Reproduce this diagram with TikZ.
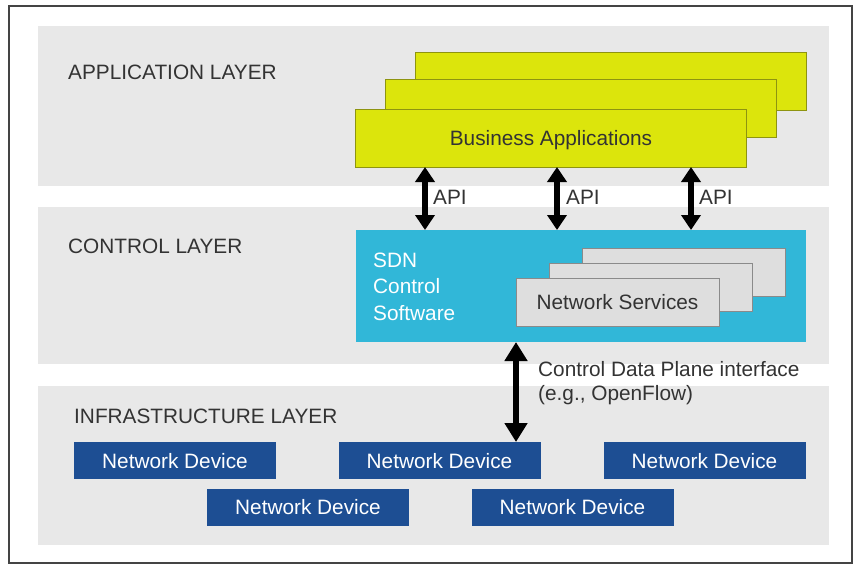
\documentclass[tikz,border=0pt]{standalone}
\usepackage{fontspec}
\setmainfont{Liberation Sans}
\usetikzlibrary{arrows.meta}
\definecolor{layergray}{HTML}{E8E8E8}
\definecolor{appyellow}{HTML}{DCE50C}
\definecolor{appborder}{HTML}{8E9410}
\definecolor{sdncyan}{HTML}{31B7D8}
\definecolor{svcgray}{HTML}{DEDEDE}
\definecolor{svcborder}{HTML}{8A8A8A}
\definecolor{devblue}{HTML}{1D4E93}
\definecolor{txtgray}{HTML}{333333}
\definecolor{framegray}{HTML}{444444}
\newcommand{\dfont}{\fontsize{20.8}{25}\selectfont}
\tikzset{
  box/.style={inner sep=0pt, outer sep=0pt, anchor=center, text height=15pt, text depth=0pt},
  layerbox/.style={box, fill=layergray, minimum width=791pt},
  appbox/.style={box, fill=appyellow, draw=appborder, line width=0.8pt, minimum width=391pt, minimum height=58pt, text=txtgray, font=\dfont},
  svcbox/.style={box, fill=svcgray, draw=svcborder, line width=1pt, minimum width=203pt, minimum height=48pt, text=txtgray, font=\dfont},
  devbox/.style={box, fill=devblue, minimum width=202pt, minimum height=37pt, text=white, font=\dfont},
  lbl/.style={inner sep=0pt, anchor=base west, text=txtgray, font=\dfont},
  apiarrow/.style={line width=5.5pt, {Triangle[width=19pt,length=15pt]}-{Triangle[width=19pt,length=15pt]}},
  cdarrow/.style={line width=6pt, {Triangle[width=22pt,length=19pt]}-{Triangle[width=22pt,length=19pt]}}
}
\begin{document}
\begin{tikzpicture}[x=1pt, y=-1pt]
\useasboundingbox (0,0) rectangle (864,574);
\fill[white] (0,0) rectangle (864,574);
% outer frame
\draw[framegray, line width=1.5pt] (9,6) rectangle (852,563);
% layers
\node[layerbox, minimum height=160pt] (applayer) at (433.5,106) {};
\node[layerbox, minimum height=157pt] (ctrllayer) at (433.5,285.5) {};
\node[layerbox, minimum height=159pt] (infralayer) at (433.5,465.5) {};
% layer labels
\node[lbl] (applbl) at (68,79) {APPLICATION LAYER};
\node[lbl] (ctrllbl) at (68,253) {CONTROL LAYER};
\node[lbl] (infralbl) at (74,423) {INFRASTRUCTURE LAYER};
% business applications
\node[appbox] (ba3) at (610.5,81) {};
\node[appbox] (ba2) at (580.5,108) {};
\node[appbox] (ba1) at (551,138) {Business Applications};
% SDN control software
\node[box, text height=, text depth=, fill=sdncyan, minimum width=450pt, minimum height=112pt] (sdn) at (581,286) {};
\node[inner sep=0pt, anchor=north west, text=white, align=left, font=\fontsize{20.8}{26.5}\selectfont] (sdnlbl) at (373,252.5) {SDN\\Control\\Software};
% network services
\node[svcbox] (ns3) at (684,272.5) {};
\node[svcbox] (ns2) at (651,287) {};
\node[svcbox] (ns1) at (617.5,302) {Network Services};
% network devices
\node[devbox] (d1) at (175,460.5) {Network Device};
\node[devbox] (d2) at (439.5,460.5) {Network Device};
\node[devbox] (d3) at (704.5,460.5) {Network Device};
\node[devbox] (d4) at (308,507) {Network Device};
\node[devbox] (d5) at (572.5,507) {Network Device};
% API arrows
\coordinate (a1) at (425,0);
\coordinate (a2) at (557,0);
\coordinate (a3) at (691,0);
\draw[apiarrow] (ba1.south -| a1) -- (sdn.north -| a1);
\draw[apiarrow] (ba1.south -| a2) -- (sdn.north -| a2);
\draw[apiarrow] (ba1.south -| a3) -- (sdn.north -| a3);
\node[lbl] (api1) at (433,204) {API};
\node[lbl] (api2) at (566,204) {API};
\node[lbl] (api3) at (699,204) {API};
% control data plane arrow
\coordinate (cx) at (516,0);
\draw[cdarrow] (sdn.south -| cx) -- (d2.north -| cx);
\node[lbl] (cdp1) at (538,376) {Control Data Plane interface};
\node[lbl] (cdp2) at (538,400) {(e.g., OpenFlow)};
\end{tikzpicture}
\end{document}
